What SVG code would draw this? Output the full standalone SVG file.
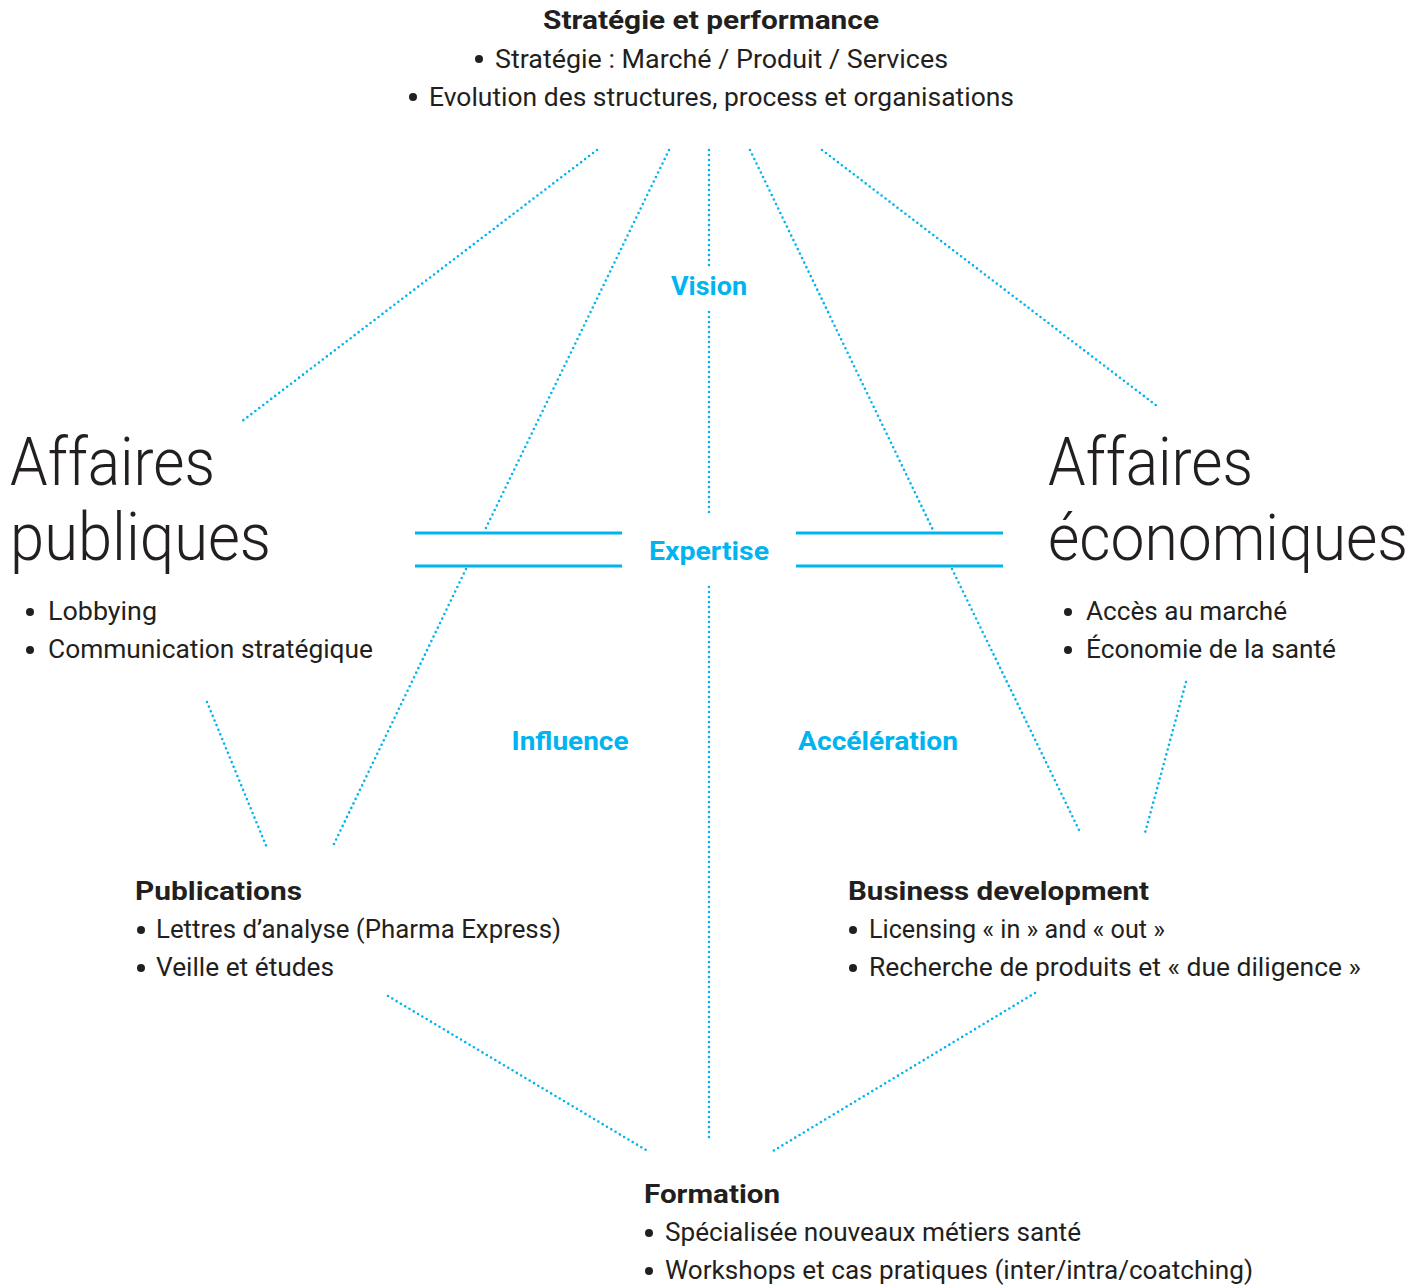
<svg xmlns="http://www.w3.org/2000/svg" width="1426" height="1285" viewBox="0 0 1426 1285">
<style>
.dot{stroke:#00b4f0;stroke-width:2.6;stroke-linecap:round;stroke-dasharray:0 5;fill:none}
.rail{stroke:#00b4f0;stroke-width:3;fill:none}
.lab{font-family:Roboto,"Liberation Sans",sans-serif;font-weight:700;font-size:25px;fill:#00b4f0;text-anchor:middle}
.h{font-family:Roboto,"Liberation Sans",sans-serif;font-weight:700;font-size:26px;fill:#231f20}
.t{font-family:Roboto,"Liberation Sans",sans-serif;font-weight:400;font-size:26px;fill:#231f20}
.big{font-family:Roboto,"Liberation Sans",sans-serif;font-weight:300;font-size:67px;fill:#231f20}
.b{fill:#231f20}
</style>
<rect width="1426" height="1285" fill="#fff"/>
<g id="connectors">
<line class="dot" x1="597" y1="150" x2="241" y2="422"/>
<line class="dot" x1="669" y1="150" x2="485" y2="530"/>
<line class="dot" x1="466" y1="569" x2="333" y2="846"/>
<line class="dot" x1="709" y1="150" x2="709" y2="268"/>
<line class="dot" x1="709" y1="312" x2="709" y2="515"/>
<line class="dot" x1="709" y1="587" x2="709" y2="1138"/>
<line class="dot" x1="750" y1="150" x2="933" y2="530"/>
<line class="dot" x1="952" y1="569" x2="1079" y2="830"/>
<line class="dot" x1="822" y1="150" x2="1157" y2="406"/>
<line class="dot" x1="207" y1="702" x2="267" y2="848"/>
<line class="dot" x1="1186" y1="682" x2="1145" y2="833"/>
<line class="dot" x1="388" y1="996" x2="646" y2="1150"/>
<line class="dot" x1="1035" y1="993" x2="773" y2="1151"/>
<line class="rail" x1="415" y1="533" x2="622" y2="533"/>
<line class="rail" x1="415" y1="566" x2="622" y2="566"/>
<line class="rail" x1="796" y1="533" x2="1003" y2="533"/>
<line class="rail" x1="796" y1="566" x2="1003" y2="566"/>
</g>
<g id="labels">
<text class="lab" x="709" y="295" textLength="76" lengthAdjust="spacingAndGlyphs">Vision</text>
<text class="lab" x="709" y="560" textLength="120" lengthAdjust="spacingAndGlyphs">Expertise</text>
<text class="lab" x="570" y="750" textLength="117" lengthAdjust="spacingAndGlyphs">Influence</text>
<text class="lab" x="878" y="750" textLength="160" lengthAdjust="spacingAndGlyphs">Accélération</text>
</g>
<g id="strategie">
<text class="h" x="711" y="29" text-anchor="middle" textLength="336" lengthAdjust="spacingAndGlyphs">Stratégie et performance</text>
<circle class="b" cx="479" cy="59" r="4"/>
<text class="t" x="495" y="68" textLength="453" lengthAdjust="spacingAndGlyphs">Stratégie : Marché / Produit / Services</text>
<circle class="b" cx="413" cy="97" r="4"/>
<text class="t" x="429" y="106" textLength="585" lengthAdjust="spacingAndGlyphs">Evolution des structures, process et organisations</text>
</g>
<g id="affaires-publiques">
<text class="big" x="10" y="485" textLength="205" lengthAdjust="spacingAndGlyphs">Affaires</text>
<text class="big" x="10" y="560" textLength="261" lengthAdjust="spacingAndGlyphs">publiques</text>
<circle class="b" cx="30" cy="612" r="4"/>
<text class="t" x="48" y="620" textLength="109" lengthAdjust="spacingAndGlyphs">Lobbying</text>
<circle class="b" cx="30" cy="650" r="4"/>
<text class="t" x="48" y="658" textLength="325" lengthAdjust="spacingAndGlyphs">Communication stratégique</text>
</g>
<g id="affaires-economiques">
<text class="big" x="1048" y="485" textLength="205" lengthAdjust="spacingAndGlyphs">Affaires</text>
<text class="big" x="1048" y="560" style="font-size:65px" textLength="360" lengthAdjust="spacingAndGlyphs">économiques</text>
<circle class="b" cx="1068" cy="612" r="4"/>
<text class="t" x="1086" y="620" textLength="201" lengthAdjust="spacingAndGlyphs">Accès au marché</text>
<circle class="b" cx="1068" cy="650" r="4"/>
<text class="t" x="1086" y="658" textLength="250" lengthAdjust="spacingAndGlyphs">Économie de la santé</text>
</g>
<g id="publications">
<text class="h" x="135" y="900" textLength="167" lengthAdjust="spacingAndGlyphs">Publications</text>
<circle class="b" cx="141" cy="930" r="4"/>
<text class="t" x="156" y="938" textLength="405" lengthAdjust="spacingAndGlyphs">Lettres d’analyse (Pharma Express)</text>
<circle class="b" cx="141" cy="968" r="4"/>
<text class="t" x="156" y="976" textLength="178" lengthAdjust="spacingAndGlyphs">Veille et études</text>
</g>
<g id="business-development">
<text class="h" x="848" y="900" textLength="301" lengthAdjust="spacingAndGlyphs">Business development</text>
<circle class="b" cx="853" cy="930" r="4"/>
<text class="t" x="869" y="938" textLength="296" lengthAdjust="spacingAndGlyphs">Licensing « in » and « out »</text>
<circle class="b" cx="853" cy="968" r="4"/>
<text class="t" x="869" y="976" textLength="492" lengthAdjust="spacingAndGlyphs">Recherche de produits et « due diligence »</text>
</g>
<g id="formation">
<text class="h" x="644" y="1203" textLength="136" lengthAdjust="spacingAndGlyphs">Formation</text>
<circle class="b" cx="649" cy="1233" r="4"/>
<text class="t" x="665" y="1241" textLength="416" lengthAdjust="spacingAndGlyphs">Spécialisée nouveaux métiers santé</text>
<circle class="b" cx="649" cy="1271" r="4"/>
<text class="t" x="665" y="1279" textLength="588" lengthAdjust="spacingAndGlyphs">Workshops et cas pratiques (inter/intra/coatching)</text>
</g>
</svg>
